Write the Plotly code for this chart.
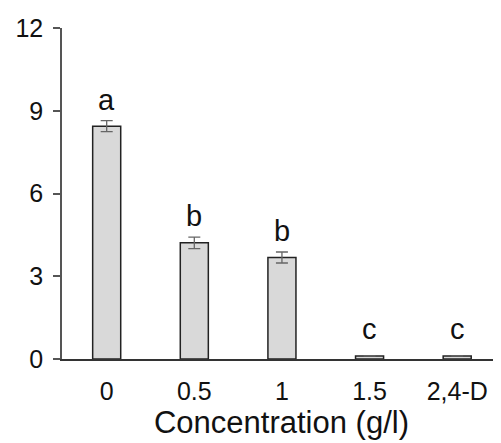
import plotly.graph_objects as go

categories = ["0", "0.5", "1", "1.5", "2,4-D"]
values = [8.44, 4.21, 3.68, 0.11, 0.11]
errors = [0.2, 0.21, 0.2, 0.0, 0.0]
letters = ["a", "b", "b", "c", "c"]
y_ticks = [0, 3, 6, 9, 12]

FONT = "Liberation Sans, Arial, sans-serif"

fig = go.Figure()
fig.add_trace(go.Bar(
    x=categories, y=values,
    width=0.32,
    marker=dict(color="#d9d9d9", line=dict(color="#222222", width=1.5)),
    error_y=dict(type="data", array=errors, visible=True, color="#666666", thickness=1.3, width=6),
))

for i, (v, e, l) in enumerate(zip(values, errors, letters)):
    fig.add_annotation(x=i, y=v + e, text=l, showarrow=False, yanchor="bottom",
                       yshift=3 if e > 0 else 9, font=dict(family=FONT, size=29, color="#111111"))

fig.update_layout(
    width=493, height=435,
    margin=dict(l=54, r=0, t=20, b=84),
    plot_bgcolor="white", paper_bgcolor="white",
    showlegend=False,
    font=dict(family=FONT, color="#111111"),
)
fig.update_xaxes(
    type="category",
    range=[-0.51, 4.5],
    showline=True, linecolor="#333333", linewidth=1.5,
    ticks="", showgrid=False,
    tickfont=dict(size=25),
    ticklabelstandoff=9,
    title=dict(text="Concentration (g/l)", font=dict(size=31), standoff=8),
)
fig.update_yaxes(
    range=[0, 12], tickvals=y_ticks,
    showline=True, linecolor="#555555", linewidth=1.5,
    ticks="outside", ticklen=7, tickcolor="#555555", tickwidth=1.5,
    showgrid=False, zeroline=False,
    tickfont=dict(size=25),
    ticklabelstandoff=5,
)

fig.write_html("out.html")
